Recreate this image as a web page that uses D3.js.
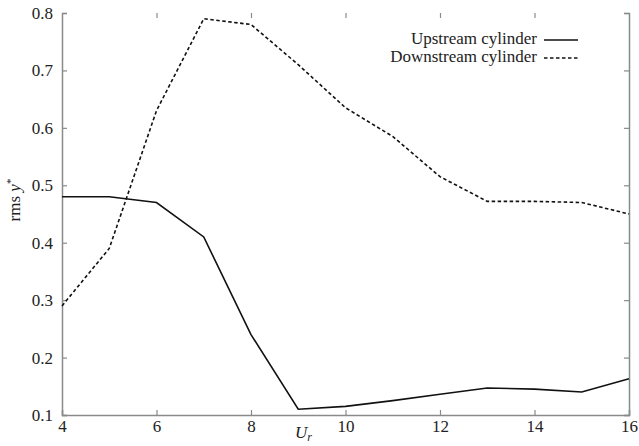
<!DOCTYPE html>
<html>
<head>
<meta charset="utf-8">
<script src="https://cdn.jsdelivr.net/npm/d3@7/dist/d3.min.js"></script>
<style>
  html, body { margin: 0; padding: 0; background: #fff; }
  text { font-family: "Liberation Serif", "DejaVu Serif", serif; fill: #222; }
</style>
</head>
<body>
<div id="chart"></div>
<script>
'use strict';

// reduced velocity U_r
var ur = [4, 5, 6, 7, 8, 9, 10, 11, 12, 13, 14, 15, 16];
// rms y* values
var upstream = [0.48, 0.48, 0.47, 0.41, 0.24, 0.11, 0.115, 0.125, 0.136, 0.147, 0.145, 0.14, 0.163];
var downstream = [0.29, 0.39, 0.63, 0.79, 0.78, 0.71, 0.635, 0.585, 0.515, 0.472, 0.472, 0.47, 0.45];
var xTicks = [4, 6, 8, 10, 12, 14, 16];
var yTicks = [0.1, 0.2, 0.3, 0.4, 0.5, 0.6, 0.7, 0.8];
var seriesNames = ['Upstream cylinder', 'Downstream cylinder'];

var W = 639, H = 446;
var margin = {top: 13, right: 10, bottom: 31, left: 62};
var w = W - margin.left - margin.right,
  h = H - margin.top - margin.bottom;

var svg = d3.select('#chart')
  .append('svg')
  .attr('width', W)
  .attr('height', H);

var g = svg.append('g')
  .attr('transform', 'translate(' + margin.left + ',' + margin.top + ')');

var x = d3.scaleLinear().domain([4, 16]).range([0, w]);
var y = d3.scaleLinear().domain([0.1, 0.8]).range([h, 0]);

var axisColor = '#8a8a8a';

function styleAxis(sel, labels) {
  sel.select('.domain').attr('stroke', axisColor).attr('stroke-width', 1.5);
  sel.selectAll('.tick line').attr('stroke', axisColor).attr('stroke-width', 1.2);
  sel.selectAll('.tick text')
    .attr('fill', '#222')
    .style('font-size', '17px')
    .style('font-family', '"Liberation Serif", serif');
  if (!labels) sel.selectAll('.tick text').remove();
}

// left axis with labels, ticks inside
g.append('g')
  .call(d3.axisLeft(y).tickValues(yTicks).tickSize(-5).tickPadding(9).tickFormat(d3.format('.1f')))
  .call(styleAxis, true);

// right axis, ticks only
g.append('g')
  .attr('transform', 'translate(' + w + ',0)')
  .call(d3.axisRight(y).tickValues(yTicks).tickSize(-5))
  .call(styleAxis, false);

// bottom axis with labels
g.append('g')
  .attr('transform', 'translate(0,' + h + ')')
  .call(d3.axisBottom(x).tickValues(xTicks).tickSize(-5).tickPadding(5).tickFormat(d3.format('d')))
  .call(styleAxis, true);

// top: ticks only, no line
var topAxis = g.append('g')
  .call(d3.axisTop(x).tickValues(xTicks.slice(1, -1)).tickSize(-5))
  .call(styleAxis, false);
topAxis.select('.domain').remove();

var line = d3.line()
  .x(function(d, i) { return x(ur[i]); })
  .y(function(d) { return y(d); });

g.append('path')
  .datum(upstream)
  .attr('fill', 'none')
  .attr('stroke', '#111')
  .attr('stroke-width', 1.6)
  .attr('d', line);

g.append('path')
  .datum(downstream)
  .attr('fill', 'none')
  .attr('stroke', '#111')
  .attr('stroke-width', 1.6)
  .attr('stroke-dasharray', '3.5,2.5')
  .attr('d', line);

// legend
var legend = svg.append('g');
var dashes = [null, '3.5,2.5'];
seriesNames.forEach(function(name, i) {
  var ly = 38 + i * 18;
  legend.append('text')
    .attr('x', 537)
    .attr('y', ly)
    .attr('dy', '0.35em')
    .attr('text-anchor', 'end')
    .style('font-size', '17px')
    .text(name);
  legend.append('line')
    .attr('x1', 544).attr('x2', 578)
    .attr('y1', ly + 2).attr('y2', ly + 2)
    .attr('stroke', '#111')
    .attr('stroke-width', 1.6)
    .attr('stroke-dasharray', dashes[i]);
});

// axis titles
svg.append('text')
  .attr('transform', 'translate(20,' + 200 + ') rotate(-90)')
  .attr('text-anchor', 'middle')
  .style('font-size', '17px')
  .html('rms <tspan font-style="italic">y</tspan><tspan dy="-6" font-size="11px">*</tspan>');

svg.append('text')
  .attr('x', 295)
  .attr('y', 438)
  .style('font-size', '17px')
  .html('<tspan font-style="italic">U</tspan><tspan dy="3" font-size="12px" font-style="italic">r</tspan>');
</script>
</body>
</html>
